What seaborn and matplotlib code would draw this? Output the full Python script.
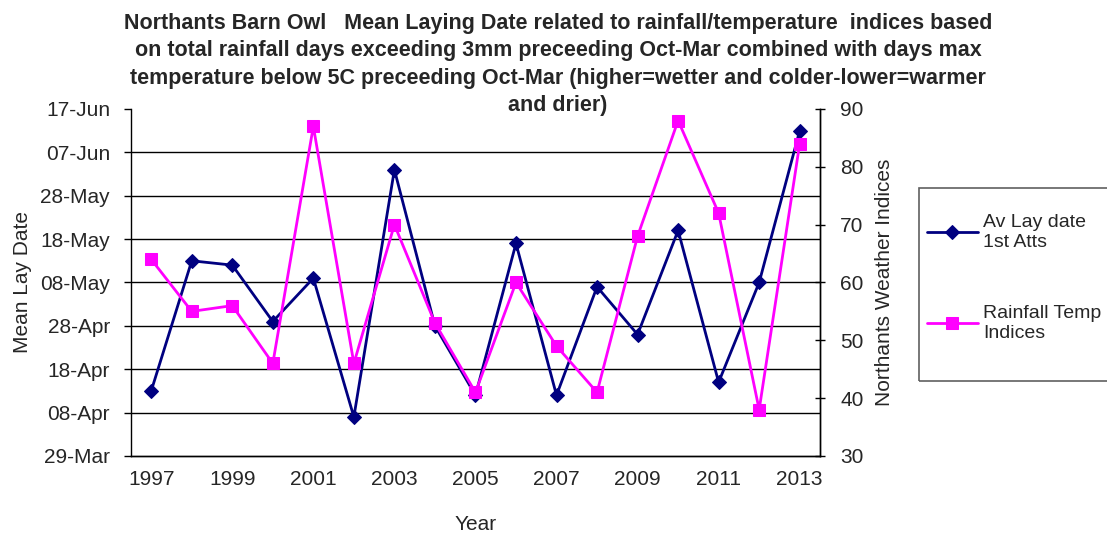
import pandas as pd
import matplotlib
matplotlib.use("Agg")
import matplotlib.pyplot as plt
import matplotlib.dates as mdates
from matplotlib.ticker import FixedLocator
from matplotlib.patches import Rectangle
import seaborn as sns
import numpy as np

years = list(range(1997, 2014))
lay_dates = ["13-Apr", "13-May", "12-May", "29-Apr", "09-May", "07-Apr", "03-Jun", "28-Apr",
             "12-Apr", "17-May", "12-Apr", "07-May", "26-Apr", "20-May", "15-Apr", "08-May", "12-Jun"]
weather_idx = [64, 55, 56, 46, 87, 46, 70, 53, 41, 60, 49, 41, 68, 88, 72, 38, 84]
date_ticks = ["29-Mar", "08-Apr", "18-Apr", "28-Apr", "08-May", "18-May", "28-May", "07-Jun", "17-Jun"]

title = ("Northants Barn Owl   Mean Laying Date related to rainfall/temperature  indices based\n"
         "on total rainfall days exceeding 3mm preceeding Oct-Mar combined with days max\n"
         "temperature below 5C preceeding Oct-Mar (higher=wetter and colder-lower=warmer\n"
         "and drier)")

sns.set_style("white")
plt.rcParams["font.family"] = ["Liberation Sans", "DejaVu Sans"]

df = pd.DataFrame({
    "pos": np.arange(len(years)),
    "lay": pd.to_datetime([d + "-2000" for d in lay_dates], format="%d-%b-%Y"),
    "idx": weather_idx,
})
yt = pd.to_datetime([d + "-2000" for d in date_ticks], format="%d-%b-%Y")

fig = plt.figure(figsize=(11.07, 5.35), dpi=100)
ax = fig.add_axes([0.1183, 0.1477, 0.6224, 0.6486])
ax2 = ax.twinx()

sns.lineplot(data=df, x="pos", y="lay", ax=ax, color="#000080", marker="D", markersize=7.5,
             markeredgecolor="#000080", linewidth=2, label="Av Lay date\n1st Atts", legend=False)
sns.lineplot(data=df, x="pos", y="idx", ax=ax2, color="#FF00FF", marker="s", markersize=8.5,
             markeredgecolor="#FF00FF", linewidth=2, label="Rainfall Temp\nIndices", legend=False)

ax.set_xlim(-0.5, len(years) - 0.5)
ax.set_xticks(np.arange(0, len(years), 2))
ax.set_xticklabels([str(y) for y in years[::2]], fontsize=15)
ax.xaxis.set_minor_locator(FixedLocator(np.arange(-0.5, len(years), 1)))
ax.tick_params(axis="x", which="major", length=0, pad=10)
ax.tick_params(axis="x", which="minor", length=5, width=1, color="black", direction="out")

ax.set_ylim(yt[0], yt[-1])
ax.set_yticks(yt)
ax.yaxis.set_major_formatter(mdates.DateFormatter("%d-%b"))
ax.tick_params(axis="y", labelsize=15, length=5, width=1, pad=10, color="black",
               direction="out", left=True)
for d in yt[1:-1]:
    ax.axhline(d, color="black", linewidth=1, zorder=0)

ax2.set_ylim(30, 90)
ax2.set_yticks(range(30, 91, 10))
ax2.tick_params(axis="y", labelsize=15, length=7, width=1, pad=11, color="black",
                direction="inout", right=True)

for a in (ax, ax2):
    a.spines["top"].set_visible(False)
    for s in ("left", "right", "bottom"):
        a.spines[s].set_color("black")
        a.spines[s].set_linewidth(1)
ax2.spines["left"].set_visible(False)

ax.set_xlabel("Year", fontsize=15, labelpad=19)
ax.set_ylabel("Mean Lay Date", fontsize=15, labelpad=6)
ax2.set_ylabel("Northants Weather Indices", fontsize=15, labelpad=8)

fig.suptitle(title, fontsize=15.5, fontweight="bold", x=0.504, y=0.976, va="top",
             linespacing=1.4)

# legend box, drawn by hand so the padding can differ per side
fig.patches.append(Rectangle((919 / 1107, 1 - 381 / 535), 0.2, (381 - 188) / 535,
                             transform=fig.transFigure, fill=False, edgecolor="#606060",
                             linewidth=1.2))
h1, l1 = ax.get_legend_handles_labels()
h2, l2 = ax2.get_legend_handles_labels()
fig.legend(h1 + h2, l1 + l2, loc="upper left", bbox_to_anchor=(927 / 1107, 1 - 214 / 535),
           fontsize=14, frameon=False, labelspacing=2.8, borderpad=0, borderaxespad=0,
           handlelength=2.6, handletextpad=0.3)

fig.savefig("out.png", dpi=100)
